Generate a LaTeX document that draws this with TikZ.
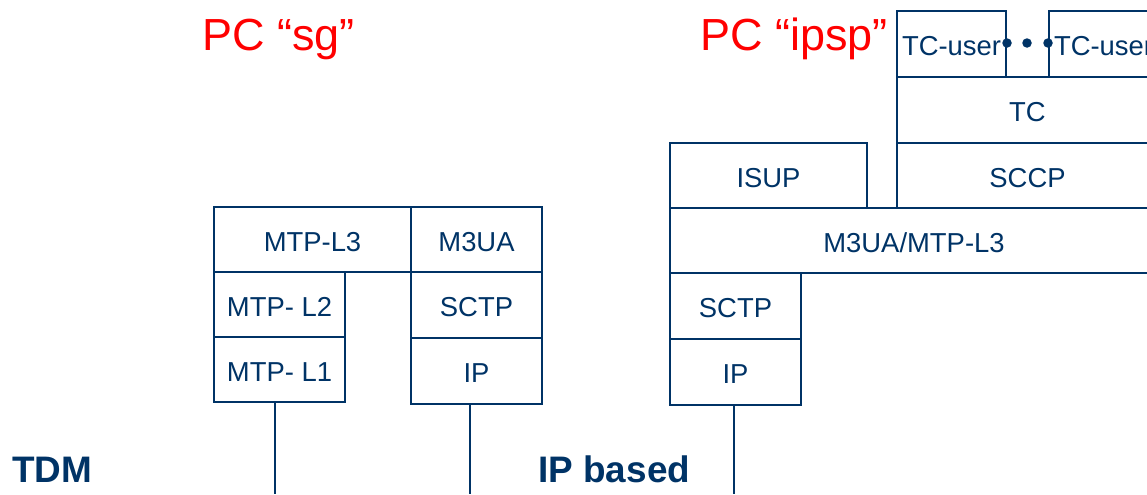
\documentclass[tikz,border=0pt]{standalone}
\usepackage{fontspec}
\setmainfont{Liberation Sans}
\usepackage[dvipsnames,svgnames]{xcolor}
\usepackage[]{tikz}
\usetikzlibrary{positioning}
\definecolor{stackblue}{RGB}{0,51,102}
\tikzset{layer/.style={rectangle,draw=stackblue,text=stackblue,line width=1.1pt,inner sep=0pt,text height=0.46cm,text depth=0pt,font=\fontsize{15.6}{18}\selectfont}}
\tikzset{pclabel/.style={text=red,inner sep=0pt,anchor=base west,font=\fontsize{25.6}{30}\selectfont}}
\tikzset{netlabel/.style={text=stackblue,inner sep=0pt,anchor=base west,font=\bfseries\fontsize{21}{25}\selectfont}}
\tikzset{stackdot/.style={circle,fill=stackblue,inner sep=0pt,minimum size=0.19cm}}
\tikzset{wire/.style={draw=stackblue,line width=0.85pt}}

\begin{document}
\begin{tikzpicture}[x=0.02cm,y=-0.02cm] %像素坐标
            \useasboundingbox (0,0) rectangle (1147,494);
            \clip (0,0) rectangle (1147,494);
            % 标题
            \node[pclabel] (pcsg) at (202,50) {PC “sg”};
            \node[pclabel] (pcipsp) at (700,50) {PC “ipsp”};
            \node[netlabel] (tdm) at (12,482) {TDM};
            \node[netlabel] (ipbased) at (538,482) {IP based};
            % 左边 sg
            \node[layer,minimum width=3.94cm,minimum height=1.30cm] (mtpl3) at (312.5,239.5) {MTP-L3};
            \node[layer,minimum width=2.62cm,minimum height=1.30cm] (m3ua) at (476.5,239.5) {M3UA};
            \node[layer,minimum width=2.62cm,minimum height=1.30cm] (mtpl2) at (279.5,304.5) {MTP- L2};
            \node[layer,minimum width=2.62cm,minimum height=1.30cm] (mtpl1) at (279.5,369.5) {MTP- L1};
            \node[layer,minimum width=2.62cm,minimum height=1.32cm] (sctpsg) at (476.5,305) {SCTP};
            \node[layer,minimum width=2.62cm,minimum height=1.32cm] (ipsg) at (476.5,371) {IP};
            % 右边 ipsp
            \node[layer,minimum width=2.18cm,minimum height=1.32cm] (tcusera) at (951.5,44) {TC-user};
            \node[layer,minimum width=2.18cm,minimum height=1.32cm] (tcuserb) at (1103.5,44) {TC-user};
            \node[layer,minimum width=5.22cm,minimum height=1.32cm] (tc) at (1027.5,110) {TC};
            \node[layer,minimum width=3.94cm,minimum height=1.30cm] (isup) at (768.5,175.5) {ISUP};
            \node[layer,minimum width=5.22cm,minimum height=1.30cm] (sccp) at (1027.5,175.5) {SCCP};
            \node[layer,minimum width=9.76cm,minimum height=1.30cm] (m3uamtp) at (914,240.5) {M3UA/MTP-L3};
            \node[layer,minimum width=2.62cm,minimum height=1.32cm] (sctpipsp) at (735.5,306) {SCTP};
            \node[layer,minimum width=2.62cm,minimum height=1.32cm] (ipipsp) at (735.5,372) {IP};
            \node[stackdot] (dota) at (1007,43) {};
            \node[stackdot] (dotb) at (1027,43) {};
            \node[stackdot] (dotc) at (1048,43) {};
            % 链路
            \coordinate (tdmend) at (275,494);
            \coordinate (sgend) at (470,494);
            \coordinate (ipspend) at (734,494);
            \draw[wire] (tdmend |- mtpl1.south) -- (tdmend);
            \draw[wire] (sgend |- ipsg.south) -- (sgend);
            \draw[wire] (ipspend |- ipipsp.south) -- (ipspend);
        \end{tikzpicture}
\end{document}
